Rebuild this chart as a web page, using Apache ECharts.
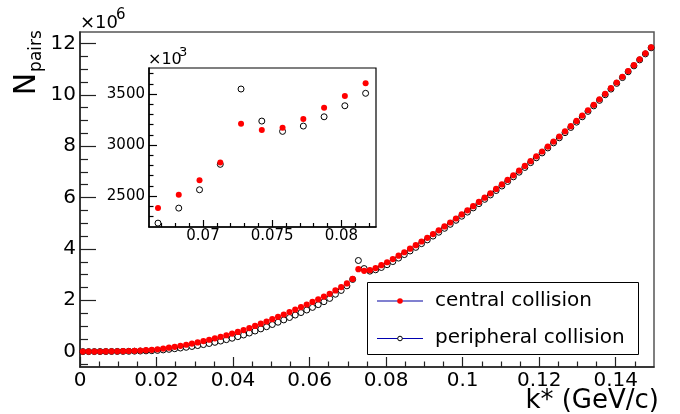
<!DOCTYPE html>
<html>
<head>
<meta charset="utf-8">
<title>N pairs vs k*</title>
<script src="https://cdn.jsdelivr.net/npm/echarts@6/dist/echarts.min.js"></script>
<style>
  html, body { margin: 0; padding: 0; background: #fff; }
  #chart { width: 680px; height: 414px; }
</style>
</head>
<body>
<div id="chart"></div>
<script>
// k* bin centres (GeV/c), bin width 0.0015
var kStar = [
  0.00075, 0.00225, 0.00375, 0.00525, 0.00675, 0.00825, 0.00975, 0.01125, 0.01275, 0.01425,
  0.01575, 0.01725, 0.01875, 0.02025, 0.02175, 0.02325, 0.02475, 0.02625, 0.02775, 0.02925,
  0.03075, 0.03225, 0.03375, 0.03525, 0.03675, 0.03825, 0.03975, 0.04125, 0.04275, 0.04425,
  0.04575, 0.04725, 0.04875, 0.05025, 0.05175, 0.05325, 0.05475, 0.05625, 0.05775, 0.05925,
  0.06075, 0.06225, 0.06375, 0.06525, 0.06675, 0.06825, 0.06975, 0.07125, 0.07275, 0.07425,
  0.07575, 0.07725, 0.07875, 0.08025, 0.08175, 0.08325, 0.08475, 0.08625, 0.08775, 0.08925,
  0.09075, 0.09225, 0.09375, 0.09525, 0.09675, 0.09825, 0.09975, 0.10125, 0.10275, 0.10425,
  0.10575, 0.10725, 0.10875, 0.11025, 0.11175, 0.11325, 0.11475, 0.11625, 0.11775, 0.11925,
  0.12075, 0.12225, 0.12375, 0.12525, 0.12675, 0.12825, 0.12975, 0.13125, 0.13275, 0.13425,
  0.13575, 0.13725, 0.13875, 0.14025, 0.14175, 0.14325, 0.14475, 0.14625, 0.14775, 0.14925
];

// N_pairs in units of 10^6
var central = [
  0.000, 0.001, 0.002, 0.004, 0.006, 0.009, 0.012, 0.017, 0.023, 0.031,
  0.041, 0.054, 0.069, 0.088, 0.118, 0.151, 0.187, 0.226, 0.267, 0.311,
  0.358, 0.408, 0.461, 0.517, 0.576, 0.637, 0.701, 0.768, 0.838, 0.918,
  1.001, 1.086, 1.173, 1.262, 1.353, 1.446, 1.541, 1.638, 1.736, 1.835,
  1.935, 2.037, 2.142, 2.252, 2.382, 2.513, 2.654, 2.830, 3.209, 3.147,
  3.170, 3.255, 3.366, 3.480, 3.605, 3.737, 3.871, 4.008, 4.147, 4.288,
  4.432, 4.578, 4.726, 4.877, 5.030, 5.185, 5.343, 5.503, 5.665, 5.830,
  5.997, 6.166, 6.338, 6.512, 6.688, 6.867, 7.048, 7.231, 7.417, 7.605,
  7.795, 7.988, 8.183, 8.380, 8.580, 8.782, 8.986, 9.193, 9.402, 9.614,
  9.827, 10.043, 10.262, 10.483, 10.706, 10.931, 11.159, 11.389, 11.621, 11.856
];
var peripheral = [
  0.000, 0.000, 0.001, 0.002, 0.003, 0.005, 0.006, 0.009, 0.012, 0.016,
  0.021, 0.028, 0.036, 0.046, 0.066, 0.088, 0.112, 0.139, 0.168, 0.200,
  0.235, 0.273, 0.315, 0.361, 0.411, 0.464, 0.521, 0.582, 0.647, 0.723,
  0.802, 0.884, 0.968, 1.055, 1.144, 1.235, 1.328, 1.424, 1.521, 1.620,
  1.722, 1.829, 1.944, 2.072, 2.235, 2.382, 2.562, 2.811, 3.549, 3.235,
  3.134, 3.186, 3.277, 3.385, 3.507, 3.642, 3.779, 3.919, 4.061, 4.205,
  4.352, 4.500, 4.650, 4.803, 4.958, 5.115, 5.274, 5.435, 5.598, 5.764,
  5.932, 6.102, 6.275, 6.450, 6.627, 6.807, 6.989, 7.173, 7.360, 7.549,
  7.740, 7.934, 8.130, 8.328, 8.529, 8.732, 8.938, 9.147, 9.358, 9.572,
  9.787, 10.005, 10.226, 10.449, 10.674, 10.901, 11.131, 11.363, 11.597, 11.834
];

// tick positions
var xMajor = [0, 0.02, 0.04, 0.06, 0.08, 0.1, 0.12, 0.14];
var xMinor = [0.005, 0.01, 0.015, 0.025, 0.03, 0.035, 0.045, 0.05, 0.055, 0.065, 0.07, 0.075,
  0.085, 0.09, 0.095, 0.105, 0.11, 0.115, 0.125, 0.13, 0.135, 0.145];
var yMajor = [0, 2, 4, 6, 8, 10, 12];
var yMinor = [-0.5, 0.5, 1, 1.5, 2.5, 3, 3.5, 4.5, 5, 5.5, 6.5, 7, 7.5, 8.5, 9, 9.5, 10.5, 11, 11.5];
var insetXMajor = [0.07, 0.075, 0.08];
var insetXMinor = [0.067, 0.068, 0.069, 0.071, 0.072, 0.073, 0.074, 0.076, 0.077, 0.078, 0.079, 0.081, 0.082];
var insetYMajor = [2500, 3000, 3500];
var insetYMinor = [2300, 2400, 2600, 2700, 2800, 2900, 3100, 3200, 3300, 3400, 3600, 3700];

var FONT = 'DejaVu Sans';
var insetMinX = 0.0661, insetMaxX = 0.0825;

function pairs(vals, scale) {
  return kStar.map(function (k, i) { return [k, vals[i] * scale]; });
}
function insetPairs(vals) {
  // inset is in units of 10^3
  return pairs(vals, 1000).filter(function (p) { return p[0] > insetMinX && p[0] < insetMaxX; });
}

// one axis that only draws ticks (and labels if asked)
function axis(dim, grid, min, max, ticks, len, opts) {
  var a = {
    type: 'value', gridIndex: grid, min: min, max: max,
    position: dim === 'x' ? 'bottom' : 'left',
    axisLine: { show: !!opts.line, onZero: false, lineStyle: { color: opts.color || '#222', width: 1.5 } },
    axisTick: { show: true, inside: true, length: len, customValues: ticks,
      lineStyle: { color: opts.color || '#222', width: 1.2 } },
    axisLabel: { show: false },
    splitLine: { show: false }
  };
  if (opts.label) {
    a.axisLabel = {
      show: true, customValues: ticks, color: '#000', fontFamily: FONT,
      fontSize: opts.label, margin: opts.margin, formatter: function (v) { return String(v); }
    };
  }
  return a;
}

var openMarker = { color: '#fff', borderColor: '#000', borderWidth: 1, opacity: 1 };
var fullMarker = { color: '#ff0000', opacity: 1 };

var chart = echarts.init(document.getElementById('chart'), null, { renderer: 'canvas' });

var option = {
  animation: false,
  backgroundColor: '#fff',
  grid: [
    { left: 80, top: 32, width: 574, height: 335, show: true, borderColor: '#555', borderWidth: 1.5,
      containLabel: false, outerBoundsMode: 'none' },
    { left: 149, top: 68, width: 227, height: 159, show: true, borderColor: '#000', borderWidth: 1.2,
      backgroundColor: '#fff', containLabel: false, outerBoundsMode: 'none' }
  ],
  xAxis: [
    axis('x', 0, 0, 0.15, xMajor, 10, { line: true, label: 20, margin: 4 }),
    axis('x', 0, 0, 0.15, xMinor, 5.5, {}),
    axis('x', 1, insetMinX, insetMaxX, insetXMajor, 7, { line: true, color: '#000', label: 15, margin: 2 }),
    axis('x', 1, insetMinX, insetMaxX, insetXMinor, 4, { color: '#000' })
  ],
  yAxis: [
    axis('y', 0, -0.6, 12.45, yMajor, 16, { line: true, label: 20, margin: 4 }),
    axis('y', 0, -0.6, 12.45, yMinor, 8, {}),
    axis('y', 1, 2197, 3755, insetYMajor, 8, { line: true, color: '#000', label: 15, margin: 4 }),
    axis('y', 1, 2197, 3755, insetYMinor, 4.5, { color: '#000' })
  ],
  series: [
    { type: 'scatter', name: 'peripheral collision', xAxisIndex: 0, yAxisIndex: 0, silent: true,
      data: pairs(peripheral, 1), symbolSize: 6, itemStyle: openMarker },
    { type: 'scatter', name: 'central collision', xAxisIndex: 0, yAxisIndex: 0, silent: true,
      data: pairs(central, 1), symbolSize: 6.2, itemStyle: fullMarker },
    { type: 'scatter', name: 'peripheral inset', xAxisIndex: 2, yAxisIndex: 2, silent: true,
      data: insetPairs(peripheral), symbolSize: 6, itemStyle: openMarker },
    { type: 'scatter', name: 'central inset', xAxisIndex: 2, yAxisIndex: 2, silent: true,
      data: insetPairs(central), symbolSize: 6, itemStyle: fullMarker }
  ],
  graphic: [
    // axis exponents
    { type: 'text', x: 80, y: 23, style: { text: '×10', fontFamily: FONT, fontSize: 18, fill: '#000', align: 'left', verticalAlign: 'middle' } },
    { type: 'text', x: 116, y: 15, style: { text: '6', fontFamily: FONT, fontSize: 15, fill: '#000', align: 'left', verticalAlign: 'middle' } },
    { type: 'text', x: 148, y: 60, style: { text: '×10', fontFamily: FONT, fontSize: 16, fill: '#000', align: 'left', verticalAlign: 'middle' } },
    { type: 'text', x: 179, y: 53, style: { text: '3', fontFamily: FONT, fontSize: 13, fill: '#000', align: 'left', verticalAlign: 'middle' } },
    // axis titles
    { type: 'text', x: 27, y: 84, rotation: Math.PI / 2, style: { text: 'N', fontFamily: FONT, fontSize: 30, fill: '#000', align: 'center', verticalAlign: 'middle' } },
    { type: 'text', x: 36.5, y: 51, rotation: Math.PI / 2, style: { text: 'pairs', fontFamily: FONT, fontSize: 17, fill: '#000', align: 'center', verticalAlign: 'middle' } },
    { type: 'text', x: 659, y: 401, style: { text: 'k* (GeV/c)', fontFamily: FONT, fontSize: 26, fill: '#000', align: 'right', verticalAlign: 'middle' } },
    // legend box
    { type: 'group', children: [
      { type: 'rect', shape: { x: 367.5, y: 282.5, width: 271, height: 72 }, style: { fill: '#fff', stroke: '#000', lineWidth: 1 } },
      { type: 'line', shape: { x1: 377, y1: 301, x2: 423, y2: 301 }, style: { stroke: '#8080d0', lineWidth: 2 } },
      { type: 'circle', shape: { cx: 400, cy: 301, r: 2.8 }, style: { fill: '#ff0000' } },
      { type: 'text', x: 435, y: 301, style: { text: 'central collision', fontFamily: FONT, fontSize: 20, fill: '#000', align: 'left', verticalAlign: 'middle' } },
      { type: 'line', shape: { x1: 377, y1: 338.5, x2: 423, y2: 338.5 }, style: { stroke: '#0000b0', lineWidth: 1 } },
      { type: 'circle', shape: { cx: 400, cy: 338.5, r: 2.3 }, style: { fill: '#fff', stroke: '#000', lineWidth: 1 } },
      { type: 'text', x: 435, y: 338, style: { text: 'peripheral collision', fontFamily: FONT, fontSize: 20, fill: '#000', align: 'left', verticalAlign: 'middle' } }
    ] }
  ]
};

chart.setOption(option);
</script>
</body>
</html>
